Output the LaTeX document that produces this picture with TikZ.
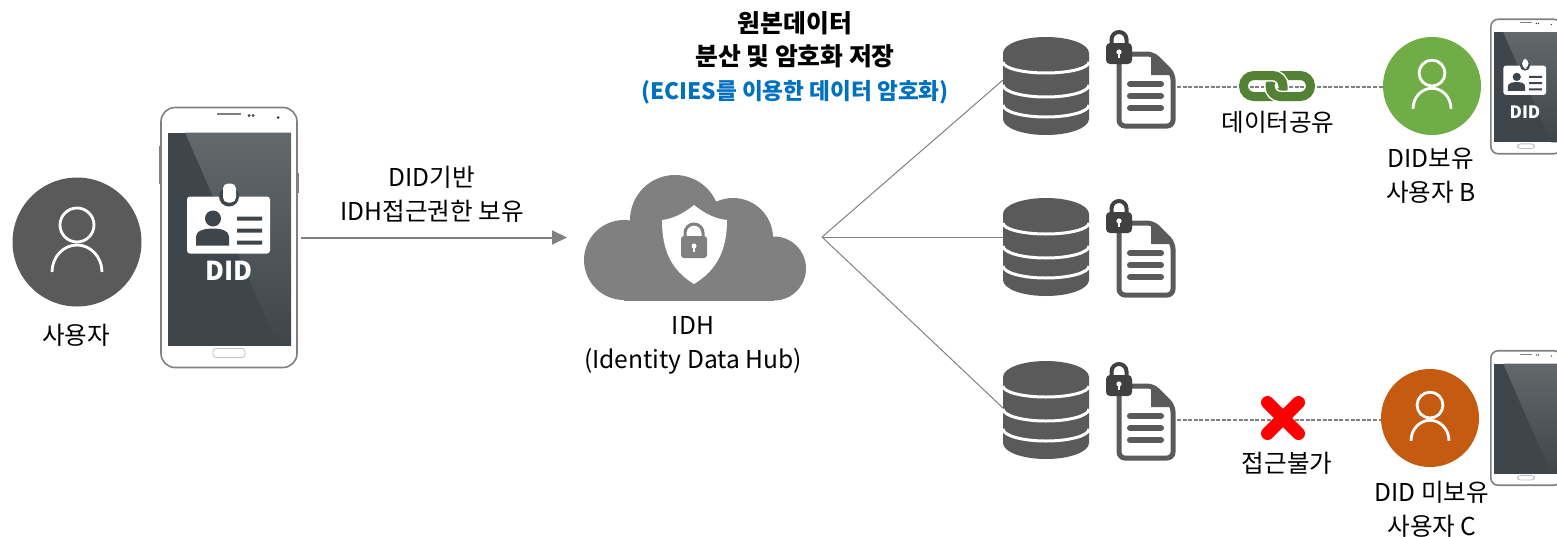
\documentclass[tikz,border=0pt]{standalone}
\usepackage{xcolor}
\usepackage{fontspec}
\setmainfont{Noto Sans CJK KR}
\usetikzlibrary{arrows.meta}

\definecolor{screendark}{HTML}{3E464B}
\definecolor{screenlight}{HTML}{62696B}
\definecolor{usergray}{HTML}{5A5A5A}
\definecolor{usergreen}{HTML}{70AD47}
\definecolor{userorange}{HTML}{C55A11}
\definecolor{chaingreen}{HTML}{548235}
\definecolor{cloudgray}{HTML}{808080}
\definecolor{lockdark}{HTML}{404040}
\definecolor{titleblue}{HTML}{0070C0}

\tikzset{
  label/.style={font=\fontsize{12.3}{17}\selectfont, align=center, text=black},
  title/.style={font=\fontsize{12.4}{16.8}\selectfont\bfseries, align=center},
  didtext/.style={text=white, font=\bfseries\fontsize{#1}{#1}\selectfont, inner sep=0pt},
  usercircle/.style={circle, fill=#1, draw=none, inner sep=0pt},
  iconbox/.style={draw=none, inner sep=0pt, outer sep=0pt, rectangle},
  thinline/.style={draw=cloudgray, line width=0.5pt},
  dashline/.style={draw=cloudgray, line width=0.6pt, dash pattern=on 2pt off 0.8pt},
  chainlink/.style={draw=chaingreen, line width=4.5pt, rounded corners=5.2pt},
  chaincase/.style={draw=white, line width=6pt, rounded corners=5.2pt},
  pics/phone/.style={code={
    \fill[cloudgray] (-70,-92) rectangle (-67,-54);
    \fill[cloudgray] (67,-65) rectangle (70,-45);
    \draw[fill=white, draw=cloudgray, line width=0.8pt, rounded corners=#1] (-68,-130) rectangle (68,130);
    \fill[screendark] (-61,-105) rectangle (62,108);
    \shade[top color=screenlight, bottom color=screendark] (-44,-105) -- (62,-105) -- (62,108) -- (49,108) -- cycle;
    \fill[cloudgray] (-12,-124.5) rectangle (12,-123);
    \fill[lockdark] (20,-122) circle[radius=1.5] (24,-122) circle[radius=1.5] (49,-120) circle[radius=1.5];
    \draw[draw=cloudgray!50, line width=0.4pt, rounded corners=1.5pt] (-16,111) rectangle (16,120);
  }},
  pics/idbadge/.style={code={
    \fill[white, rounded corners=1.5pt] (-42,-28) rectangle (41,29);
    \fill[screendark] (0,-28) circle[radius=10];
    \fill[white, rounded corners=2.5pt] (-6,-41) rectangle (7,-22);
    \fill[screendark] (-16,-6) circle[radius=8];
    \fill[screendark] (-33,21) -- (-33,12) .. controls (-33,6) and (-24,4) .. (-16,4) .. controls (-8,4) and (0,6) .. (0,12) -- (0,21) -- cycle;
    \fill[screendark] (8,-8) rectangle (33,-4) (8,4) rectangle (33,8) (8,16) rectangle (33,20);
  }},
  pics/usericon/.style={code={
    \draw[white, line width=1.4pt] (0,-17) circle[radius=17];
    \draw[white, line width=1.4pt] (-25,30) arc[start angle=180, end angle=360, x radius=25, y radius=27];
  }},
  pics/database/.style={code={
    \fill[usergray] (-43,-33) arc[start angle=180, end angle=360, x radius=43, y radius=16] -- (43,33) arc[start angle=0, end angle=180, x radius=43, y radius=16] -- cycle;
    \draw[white, line width=1.5pt] (-43,-24) arc[start angle=180, end angle=0, x radius=43, y radius=11];
    \draw[white, line width=1.5pt] (-43,-1) arc[start angle=180, end angle=0, x radius=43, y radius=12];
    \draw[white, line width=1.5pt] (-43,19) arc[start angle=180, end angle=0, x radius=43, y radius=12];
  }},
  pics/lockdoc/.style={code={
    \draw[fill=white, draw=usergray, line width=2.5pt, rounded corners=3pt] (-22,-25) -- (12,-25) -- (32,-5) -- (32,47) -- (-22,47) -- cycle;
    \fill[usergray] (10,-25) -- (10,-4) -- (32,-4) -- cycle;
    \draw[usergray, line width=3pt, line cap=round] (-11,5) -- (20,5) (-11,17) -- (20,17) (-11,29) -- (20,29);
    \draw[lockdark, line width=2pt] (-29.5,-32) -- (-29.5,-39.5) arc[start angle=180, end angle=360, radius=7.5] -- (-14.5,-32);
    \fill[lockdark, rounded corners=2pt] (-35,-36) rectangle (-9,-15);
    \fill[white] (-22,-27) circle[radius=2.6];
    \fill[white] (-23,-27) -- (-21,-27) -- (-21,-21.5) -- (-23,-21.5) -- cycle;
  }}
}

\begin{document}
\begin{tikzpicture}[x=0.5pt, y=-0.5pt]
    \useasboundingbox (0,0) rectangle (1557,536);
    \clip (0,0) rectangle (1557,536);

    \node[usercircle=usergray, minimum size=64.5pt] (userA) at (77,242) {};
    \pic at (userA.center) {usericon};
    \node[label] (userAtext) at (76,335) {사용자};

    \node[iconbox, minimum width=69pt, minimum height=130.5pt] (phoneA) at (229,237.5) {};
    \pic at (phoneA.center) {phone=7pt};
    \pic at (229,224.5) {idbadge};
    \node[didtext=13] (didA) at (229,271) {DID};

    \node[label] (arrowtext) at (432,194) {DID기반\\IDH접근권한 보유};

    \node[iconbox, minimum width=111pt, minimum height=62.5pt] (idh) at (695,237.5) {};
    \fill[cloudgray] (624,260) circle[radius=40];
    \fill[cloudgray] (675,220) circle[radius=45];
    \fill[cloudgray] (733,238) circle[radius=40];
    \fill[cloudgray] (774,268.5) circle[radius=32];
    \fill[cloudgray] (624,240) rectangle (774,300.5);
    \fill[white] (694,205) .. controls (705,214) and (716,219) .. (727,220) .. controls (727,250) and (717,270) .. (694,284) .. controls (671,270) and (662,250) .. (662,220) .. controls (672,219) and (683,214) .. (694,205) -- cycle;
    \draw[cloudgray, line width=1.5pt] (685,240) -- (685,233) arc[start angle=180, end angle=360, radius=9] -- (703,240);
    \fill[cloudgray, rounded corners=1.5pt] (681,236) rectangle (707,258);
    \fill[white] (694,246) circle[radius=2.5];
    \fill[white] (693,246) rectangle (695,252);
    \node[label] (idhtext) at (693,345.5) {IDH\\(Identity Data Hub)};

    \draw[-{Triangle[length=7.5pt, width=7pt]}, draw=cloudgray, fill=cloudgray, line width=1pt, shorten >=8.5pt, shorten <=1.5pt] (phoneA.east) -- (idh.west);

    \node[title] (titletext) at (795,57.5) {원본데이터\\분산 및 암호화 저장\\\textcolor{titleblue}{\fontsize{11.3}{16.8}\selectfont (ECIES를 이용한 데이터 암호화)}};

    \coordinate (hub) at (822,237);
    \coordinate (dbinA) at (1003,80);
    \coordinate (dbinB) at (1003,237);
    \coordinate (dbinC) at (1003,408);
    \draw[thinline] (hub) -- (dbinA);
    \draw[thinline] (hub) -- (dbinB);
    \draw[thinline] (hub) -- (dbinC);

    \pic at (1046,86) {database};
    \pic at (1046,247) {database};
    \pic at (1046,410) {database};
    \pic at (1141,79) {lockdoc};
    \pic at (1141,248) {lockdoc};
    \pic at (1141,411) {lockdoc};

    \node[usercircle=usergreen, minimum size=49pt] (userB) at (1432,86) {};
    \pic[scale=0.76] at (userB.center) {usericon};
    \node[usercircle=userorange, minimum size=49pt] (userC) at (1430,418) {};
    \pic[scale=0.76] at (userC.center) {usericon};

    \coordinate (docoutA) at (1177,87);
    \coordinate (docoutC) at (1177,420);
    \draw[dashline] (docoutA) -- (userB.west |- docoutA);
    \draw[dashline] (docoutC) -- (userC.west |- docoutC);

    \draw[chainlink] (1243.5,75.5) rectangle (1283,96.5);
    \draw[chaincase] (1270,75.5) rectangle (1310.5,96.5);
    \draw[chainlink] (1270,75.5) rectangle (1310.5,96.5);
    \draw[chaincase] (1264,75.5) -- (1283,75.5) -- (1283,88);
    \draw[chainlink] (1260,75.5) -- (1283,75.5) -- (1283,90);
    \node[label] (sharetext) at (1278,122) {데이터공유};

    \draw[red, line width=6.5pt, line cap=round] (1267.5,402.5) -- (1298.5,433.5);
    \draw[red, line width=6.5pt, line cap=round] (1298.5,402.5) -- (1267.5,433.5);
    \node[label] (denytext) at (1287,463) {접근불가};

    \node[label] (userBtext) at (1431,176) {DID보유\\사용자 B};
    \node[label] (userCtext) at (1432,509) {DID 미보유\\사용자 C};

    \node[iconbox, minimum width=35.7pt, minimum height=67.5pt] (phoneB) at (1526,86.5) {};
    \pic[scale=0.517] at (phoneB.center) {phone=3.6pt};
    \pic[scale=0.517] at (1525,80) {idbadge};
    \node[didtext=8.5] (didB) at (1525,112) {DID};

    \node[iconbox, minimum width=35.7pt, minimum height=67.5pt] (phoneC) at (1526,418) {};
    \pic[scale=0.517] at (phoneC.center) {phone=3.6pt};
\end{tikzpicture}
\end{document}
